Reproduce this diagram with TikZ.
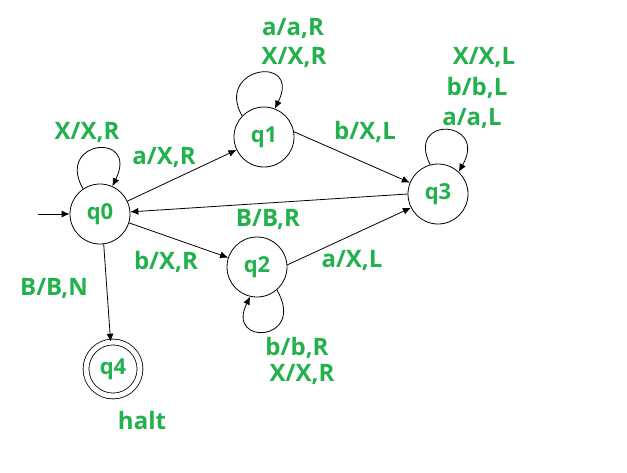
\documentclass[tikz,border=0pt]{standalone}
\usepackage{fontspec}
\setmainfont{Open Sans}
\usetikzlibrary{arrows.meta}
\definecolor{paintgreen}{RGB}{34,177,76}
\tikzset{
  stbox/.style={circle, draw, line width=0.8pt, minimum size=60pt, inner sep=0pt,
    text=paintgreen, font=\fontsize{22}{22}\selectfont\bfseries},
  lbl/.style={text=paintgreen, inner sep=0pt, font=\fontsize{24}{24}\selectfont\bfseries},
  trans/.style={-{Latex[length=8pt,width=7pt]}, line width=0.8pt}
}
\begin{document}
\begin{tikzpicture}[x=1pt,y=-1pt]
\useasboundingbox (0,0) rectangle (627,472);

\node[stbox] (q0) at (100,214) {q0};
\node[stbox] (q1) at (264,137) {q1};
\node[stbox] (q2) at (257,267) {q2};
\node[stbox] (q3) at (438,194) {q3};
\node[stbox, minimum size=54pt, double, double distance=5pt] (q4) at (113,369) {q4};
\coordinate (start) at (38,214);

\draw[trans] (start) -- (q0);
\draw[trans] (q0) -- (q1);
\draw[trans] (q1.10) -- (q3.158);
\draw[trans] (q3.180) -- (q0.4);
\draw[trans] (q0.-17) -- (q2.162);
\draw[trans] (q2.4) -- (q3.207);
\draw[trans] (q0.-83) -- (q4.95);

% loops
\draw[trans] (q0.124) .. controls +(-28,-49) and +(27,-55) .. (q0.66);
\draw[trans] (q1.136) .. controls +(-28,-49) and +(27,-55) .. (q1.69);
\draw[trans] (q3.105) .. controls +(-25,-50) and +(30,-52) .. (q3.47);
\draw[trans] (q2.-49) .. controls +(30,52) and +(-25,50) .. (q2.-103);

% labels
\node[lbl] (l00) at (87,132) {X/X,R};
\node[lbl] (l01) at (164,157) {a/X,R};
\node[lbl] (l02) at (166,262) {b/X,R};
\node[lbl] (l04) at (54,288) {B/B,N};
\node[lbl] (halt) at (142,420) {halt};
\node[lbl] (l11a) at (293,28) {a/a,R};
\node[lbl] (l11b) at (294,57) {X/X,R};
\node[lbl] (l13) at (365,132) {b/X,L};
\node[lbl] (l33a) at (484,57) {X/X,L};
\node[lbl] (l33b) at (477,88) {b/b,L};
\node[lbl] (l33c) at (472,118) {a/a,L};
\node[lbl] (l30) at (268,219) {B/B,R};
\node[lbl] (l23) at (352,260) {a/X,L};
\node[lbl] (l22a) at (297,348) {b/b,R};
\node[lbl] (l22b) at (302,374) {X/X,R};
\end{tikzpicture}
\end{document}
